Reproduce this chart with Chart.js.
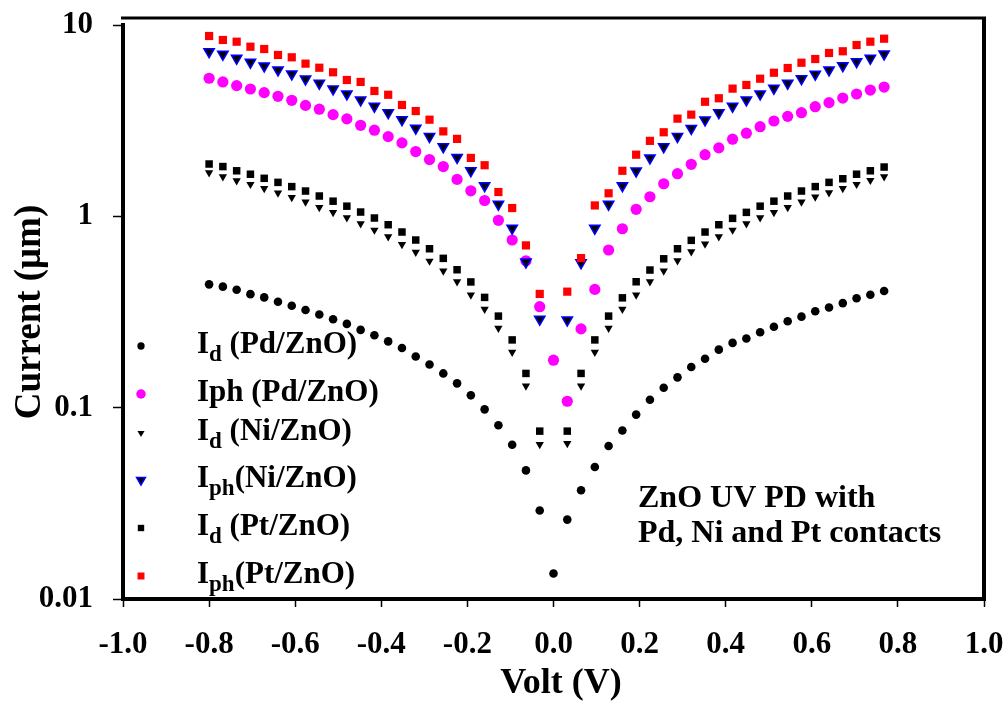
<!DOCTYPE html>
<html>
<head>
<meta charset="utf-8">
<script src="https://cdn.jsdelivr.net/npm/chart.js@4.4.0/dist/chart.umd.min.js"></script>
<style>
    html, body { margin: 0; padding: 0; background: #fff; }
    #wrap { width: 1003px; height: 704px; }
</style>
</head>
<body>
<div id="wrap"><canvas id="ivChart" width="1003" height="704"></canvas></div>
<script>
'use strict';

// bias voltage (V)
var volts = [-0.800, -0.768, -0.736, -0.704, -0.672, -0.640, -0.608, -0.576, -0.544, -0.512,
             -0.480, -0.448, -0.416, -0.384, -0.352, -0.320, -0.288, -0.256, -0.224, -0.192,
             -0.160, -0.128, -0.096, -0.064, -0.032, 0.000, 0.032, 0.064, 0.096, 0.128,
             0.160, 0.192, 0.224, 0.256, 0.288, 0.320, 0.352, 0.384, 0.416, 0.448,
             0.480, 0.512, 0.544, 0.576, 0.608, 0.640, 0.672, 0.704, 0.736, 0.768];

// dark current, Pd contact
var idPd = [0.441, 0.429, 0.413, 0.392, 0.377, 0.358, 0.341, 0.324, 0.307, 0.290,
            0.274, 0.255, 0.239, 0.222, 0.205, 0.185, 0.168, 0.151, 0.134, 0.116,
            0.098, 0.081, 0.064, 0.047, 0.029, 0.0136, 0.026, 0.037, 0.049, 0.063,
            0.076, 0.092, 0.110, 0.127, 0.144, 0.163, 0.180, 0.201, 0.218, 0.230,
            0.248, 0.265, 0.283, 0.299, 0.319, 0.334, 0.352, 0.373, 0.389, 0.407];

// photo current, Pd contact
var iphPd = [5.27, 5.04, 4.82, 4.63, 4.43, 4.24, 4.04, 3.80, 3.63, 3.40,
             3.23, 2.99, 2.82, 2.61, 2.42, 2.18, 1.98, 1.82, 1.56, 1.36,
             1.21, 0.953, 0.752, 0.586, 0.337, 0.177, 0.108, 0.258, 0.415, 0.667,
             0.861, 1.088, 1.266, 1.48, 1.67, 1.87, 2.10, 2.28, 2.53, 2.72,
             2.94, 3.15, 3.33, 3.48, 3.74, 3.93, 4.15, 4.36, 4.57, 4.74];

// dark current, Ni contact
var idNi = [1.69, 1.61, 1.535, 1.47, 1.40, 1.324, 1.257, 1.188, 1.114, 1.049,
            0.983, 0.915, 0.848, 0.782, 0.714, 0.649, 0.584, 0.519, 0.455, 0.388,
            0.327, 0.260, 0.195, 0.130, 0.0643, null, 0.0651, 0.130, 0.195, 0.260,
            0.327, 0.388, 0.455, 0.519, 0.586, 0.653, 0.717, 0.782, 0.848, 0.915,
            0.983, 1.049, 1.114, 1.188, 1.262, 1.328, 1.40, 1.47, 1.543, 1.61];

// photo current, Ni contact
var iphNi = [7.25, 7.03, 6.70, 6.38, 6.11, 5.82, 5.55, 5.22, 4.96, 4.63,
             4.36, 4.06, 3.76, 3.48, 3.20, 2.89, 2.61, 2.31, 2.03, 1.73,
             1.445, 1.155, 0.866, 0.577, 0.290, null, 0.287, 0.572, 0.866, 1.155,
             1.445, 1.725, 2.02, 2.31, 2.61, 2.88, 3.19, 3.48, 3.76, 4.06,
             4.36, 4.67, 4.96, 5.24, 5.53, 5.82, 6.13, 6.43, 6.70, 7.05];

// dark current, Pt contact
var idPt = [1.877, 1.82, 1.73, 1.66, 1.58, 1.505, 1.43, 1.356, 1.277, 1.20,
            1.13, 1.053, 0.98, 0.904, 0.828, 0.752, 0.677, 0.603, 0.526, 0.454,
            0.377, 0.301, 0.226, 0.151, 0.0754, null, 0.0754, 0.151, 0.226, 0.301,
            0.375, 0.455, 0.524, 0.60, 0.677, 0.749, 0.828, 0.904, 0.976, 1.049,
            1.13, 1.20, 1.277, 1.356, 1.43, 1.505, 1.572, 1.66, 1.73, 1.81];

// photo current, Pt contact
var iphPt = [8.76, 8.35, 8.18, 7.70, 7.49, 6.97, 6.78, 6.28, 5.98, 5.66,
             5.16, 5.04, 4.52, 4.32, 3.82, 3.55, 3.20, 2.78, 2.54, 2.02,
             1.85, 1.34, 1.105, 0.705, 0.393, null, 0.404, 0.605, 1.14, 1.32,
             1.73, 2.10, 2.48, 2.75, 3.24, 3.40, 3.97, 4.14, 4.65, 4.86,
             5.24, 5.63, 5.96, 6.35, 6.64, 7.14, 7.29, 7.86, 8.18, 8.48];

var xTicks = [-1.0, -0.8, -0.6, -0.4, -0.2, 0.0, 0.2, 0.4, 0.6, 0.8, 1.0];
var yTicks = [0.01, 0.1, 1, 10];

var SERIF = '"Liberation Serif", "Times New Roman", Times, serif';

function toPoints(values) {
    var pts = [];
    volts.forEach(function (v, i) {
        if (values[i] !== null) {
            pts.push({ x: v, y: values[i] });
        }
    });
    return pts;
}

// legend rows: main letter, subscript, remainder
var legendRows = [
    { main: 'I', sub: 'd', rest: ' (Pd/ZnO)', base: 353 },
    { main: 'Iph (Pd/ZnO)', sub: '', rest: '', base: 401 },
    { main: 'I', sub: 'd', rest: ' (Ni/ZnO)', base: 440 },
    { main: 'I', sub: 'ph', rest: '(Ni/ZnO)', base: 487 },
    { main: 'I', sub: 'd', rest: ' (Pt/ZnO)', base: 535 },
    { main: 'I', sub: 'ph', rest: '(Pt/ZnO)', base: 583 }
];

// frame lines, legend with subscripts, note and x title
var frameAndLegend = {
    id: 'frameAndLegend',
    afterDraw: function (chart) {
        var ctx = chart.ctx;
        var area = chart.chartArea;
        ctx.save();

        ctx.strokeStyle = '#000';
        ctx.lineWidth = 3;
        ctx.beginPath();
        ctx.moveTo(area.left - 2, 18);
        ctx.lineTo(area.right + 2, 18);
        ctx.stroke();
        ctx.lineWidth = 4;
        ctx.beginPath();
        ctx.moveTo(area.right, 17);
        ctx.lineTo(area.right, area.bottom + 2);
        ctx.stroke();

        legendRows.forEach(function (row, i) {
            var ds = chart.data.datasets[i];
            var markY = row.base - 7;
            ctx.fillStyle = ds.pointBackgroundColor;
            ctx.strokeStyle = ds.pointBorderColor;
            ctx.lineWidth = ds.pointBorderWidth;
            Chart.helpers.drawPoint(ctx, {
                pointStyle: ds.pointStyle,
                rotation: ds.pointRotation || 0,
                radius: ds.pointRadius * 0.85,
                borderWidth: ds.pointBorderWidth
            }, 141, markY);

            var x = 197;
            ctx.fillStyle = '#000';
            ctx.textBaseline = 'alphabetic';
            ctx.textAlign = 'left';
            ctx.font = 'bold 31px ' + SERIF;
            ctx.fillText(row.main, x, row.base);
            x += ctx.measureText(row.main).width;
            if (row.sub) {
                ctx.font = 'bold 23px ' + SERIF;
                ctx.fillText(row.sub, x, row.base + 8);
                x += ctx.measureText(row.sub).width;
            }
            ctx.font = 'bold 31px ' + SERIF;
            ctx.fillText(row.rest, x, row.base);
        });

        ctx.font = 'bold 32px ' + SERIF;
        ctx.fillText('ZnO UV PD with', 638, 507);
        ctx.fillText('Pd, Ni and Pt contacts', 638, 542);

        ctx.font = 'bold 36px ' + SERIF;
        ctx.textAlign = 'center';
        ctx.fillText('Volt (V)', 561, 693);
        ctx.restore();
    }
};

Chart.defaults.font.family = SERIF;
Chart.defaults.font.weight = 'bold';
Chart.defaults.color = '#000';

var ctx = document.getElementById('ivChart').getContext('2d');
var chart = new Chart(ctx, {
    type: 'scatter',
    data: {
        datasets: [{
            label: 'Id (Pd/ZnO)',
            data: toPoints(idPd),
            pointStyle: 'circle',
            pointRadius: 4.3,
            pointBackgroundColor: '#000',
            pointBorderColor: '#000',
            pointBorderWidth: 0,
            order: 6
        }, {
            label: 'Iph (Pd/ZnO)',
            data: toPoints(iphPd),
            pointStyle: 'circle',
            pointRadius: 5.6,
            pointBackgroundColor: '#ff00ff',
            pointBorderColor: '#ff00ff',
            pointBorderWidth: 0,
            order: 5
        }, {
            label: 'Id (Ni/ZnO)',
            data: toPoints(idNi),
            pointStyle: 'triangle',
            pointRotation: 180,
            pointRadius: 4.8,
            pointBackgroundColor: '#000',
            pointBorderColor: '#000',
            pointBorderWidth: 0,
            order: 4
        }, {
            label: 'Iph (Ni/ZnO)',
            data: toPoints(iphNi),
            pointStyle: 'triangle',
            pointRotation: 180,
            pointRadius: 6,
            pointBackgroundColor: '#000',
            pointBorderColor: '#0000ff',
            pointBorderWidth: 1.5,
            order: 3
        }, {
            label: 'Id (Pt/ZnO)',
            data: toPoints(idPt),
            pointStyle: 'rect',
            pointRadius: 5.3,
            pointBackgroundColor: '#000',
            pointBorderColor: '#000',
            pointBorderWidth: 0,
            order: 2
        }, {
            label: 'Iph (Pt/ZnO)',
            data: toPoints(iphPt),
            pointStyle: 'rect',
            pointRadius: 5.8,
            pointBackgroundColor: '#ff0000',
            pointBorderColor: '#ff0000',
            pointBorderWidth: 0,
            order: 1
        }]
    },
    options: {
        responsive: false,
        animation: false,
        devicePixelRatio: 1,
        layout: { autoPadding: false, padding: { top: 25, right: 19, left: 0, bottom: 0 } },
        plugins: {
            legend: { display: false },
            tooltip: { enabled: false }
        },
        scales: {
            x: {
                type: 'linear',
                min: -1,
                max: 1,
                afterFit: function (scale) {
                    scale.height = 105;
                    scale.paddingLeft = 0;
                    scale.paddingRight = 0;
                },
                afterBuildTicks: function (scale) {
                    scale.ticks = xTicks.map(function (v) { return { value: v }; });
                },
                ticks: {
                    autoSkip: false,
                    maxRotation: 0,
                    padding: 19,
                    font: { size: 31, weight: 'bold' },
                    callback: function (value) { return value.toFixed(1); }
                },
                grid: {
                    drawOnChartArea: false,
                    drawTicks: true,
                    tickLength: 8,
                    tickColor: '#000',
                    tickWidth: 1.5
                },
                border: { display: true, color: '#000', width: 4 }
            },
            y: {
                type: 'logarithmic',
                min: 0.01,
                max: 10,
                afterFit: function (scale) {
                    scale.width = 123;
                    scale.paddingTop = 0;
                    scale.paddingBottom = 0;
                },
                afterBuildTicks: function (scale) {
                    scale.ticks = yTicks.map(function (v) { return { value: v }; });
                },
                ticks: {
                    padding: 20,
                    font: { size: 31, weight: 'bold' },
                    callback: function (value) { return String(value); }
                },
                grid: {
                    drawOnChartArea: false,
                    drawTicks: true,
                    tickLength: 10,
                    tickColor: '#000',
                    tickWidth: 1.5
                },
                border: { display: true, color: '#000', width: 4 },
                title: {
                    display: true,
                    text: 'Current (\u03bcm)',
                    font: { size: 37, weight: 'bold' },
                    padding: { top: 8, bottom: 0 }
                }
            }
        }
    },
    plugins: [frameAndLegend]
});
</script>
</body>
</html>
